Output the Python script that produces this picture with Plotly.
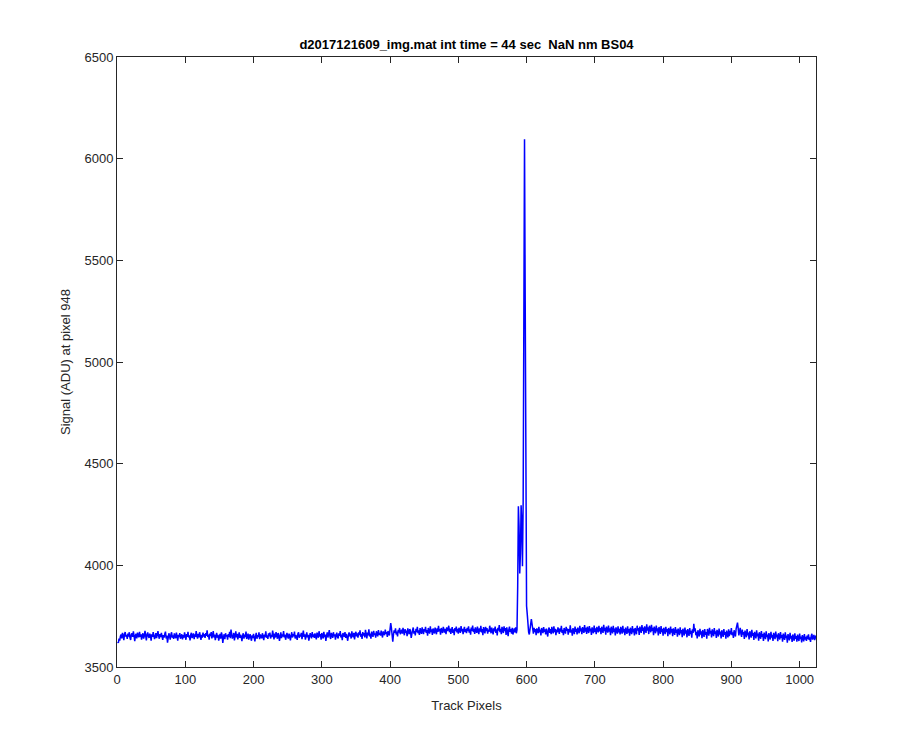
import plotly.graph_objects as go

title_text = "d2017121609_img.mat int time = 44 sec\u00a0\u00a0NaN nm BS04"
x_label = "Track Pixels"
y_label = "Signal (ADU) at pixel 948"
x_ticks = [0, 100, 200, 300, 400, 500, 600, 700, 800, 900, 1000]
y_ticks = [3500, 4000, 4500, 5000, 5500, 6000, 6500]

seg_001_128 = [
    3625, 3618, 3640, 3630, 3652, 3660, 3641, 3668, 3655, 3632, 3661, 3672, 3649, 3658, 3638, 3664,
    3650, 3671, 3645, 3633, 3660, 3666, 3648, 3675, 3652, 3627, 3655, 3663, 3641, 3669, 3654, 3646,
    3673, 3649, 3660, 3634, 3657, 3666, 3640, 3652, 3678, 3645, 3631, 3659, 3670, 3651, 3643, 3664,
    3655, 3629, 3661, 3648, 3672, 3656, 3637, 3650, 3667, 3642, 3659, 3676, 3653, 3639, 3662, 3647,
    3668, 3651, 3633, 3657, 3645, 3663, 3674, 3640, 3655, 3620, 3648, 3666, 3652, 3635, 3660, 3671,
    3644, 3656, 3638, 3665, 3650, 3642, 3669, 3654, 3630, 3658, 3647, 3667, 3639, 3653, 3661, 3636,
    3657, 3644, 3670, 3651, 3634, 3662, 3649, 3673, 3645, 3656, 3631, 3659, 3668, 3642, 3654, 3665,
    3637, 3660, 3648, 3676, 3652, 3640, 3663, 3646, 3671, 3655, 3633, 3658, 3644, 3669, 3650, 3661,
]
seg_129_256 = [
    3643, 3667, 3654, 3680, 3648, 3659, 3635, 3664, 3652, 3672, 3641, 3656, 3677, 3645, 3660, 3632,
    3653, 3668, 3644, 3658, 3630, 3650, 3663, 3639, 3670, 3655, 3618, 3647, 3661, 3637, 3666, 3651,
    3657, 3634, 3662, 3648, 3673, 3642, 3684, 3660, 3640, 3652, 3667, 3631, 3655, 3675, 3646, 3663,
    3636, 3651, 3670, 3643, 3658, 3649, 3627, 3654, 3666, 3640, 3659, 3648, 3674, 3638, 3653, 3664,
    3635, 3650, 3661, 3644, 3629, 3656, 3642, 3663, 3651, 3626, 3652, 3668, 3639, 3657, 3647, 3671,
    3637, 3660, 3650, 3641, 3666, 3653, 3632, 3659, 3648, 3675, 3644, 3656, 3638, 3665, 3651, 3669,
    3640, 3658, 3647, 3679, 3654, 3636, 3664, 3645, 3672, 3652, 3639, 3667, 3655, 3628, 3657, 3670,
    3642, 3661, 3650, 3677, 3646, 3659, 3634, 3653, 3668, 3649, 3640, 3664, 3654, 3631, 3660, 3671,
]
seg_257_384 = [
    3645, 3662, 3651, 3674, 3640, 3657, 3648, 3633, 3664, 3671, 3644, 3659, 3650, 3668, 3637, 3655,
    3679, 3648, 3661, 3635, 3653, 3670, 3646, 3658, 3630, 3650, 3666, 3655, 3641, 3672, 3649, 3660,
    3643, 3665, 3652, 3636, 3669, 3657, 3644, 3676, 3650, 3662, 3634, 3667, 3653, 3640, 3673, 3648,
    3659, 3628, 3654, 3670, 3645, 3663, 3681, 3650, 3638, 3668, 3656, 3643, 3671, 3651, 3661, 3635,
    3657, 3669, 3648, 3641, 3666, 3654, 3677, 3645, 3660, 3632, 3667, 3655, 3649, 3672, 3643, 3663,
    3652, 3629, 3658, 3670, 3650, 3664, 3640, 3675, 3655, 3647, 3668, 3636, 3661, 3673, 3651, 3665,
    3644, 3670, 3657, 3680, 3649, 3663, 3638, 3672, 3655, 3667, 3646, 3683, 3660, 3641, 3669, 3656,
    3685, 3650, 3664, 3639, 3674, 3661, 3648, 3678, 3657, 3666, 3644, 3676, 3663, 3651, 3682, 3659,
]
seg_385_512 = [
    3668, 3654, 3679, 3662, 3645, 3675, 3667, 3656, 3684, 3663, 3672, 3648, 3677, 3666, 3655, 3686,
    3716, 3692, 3664, 3624, 3659, 3680, 3668, 3690, 3660, 3674, 3651, 3683, 3669, 3692, 3661, 3676,
    3684, 3664, 3693, 3672, 3656, 3686, 3668, 3679, 3652, 3690, 3673, 3661, 3687, 3675, 3643, 3670,
    3681, 3694, 3664, 3677, 3655, 3688, 3671, 3697, 3666, 3680, 3658, 3691, 3674, 3663, 3695, 3677,
    3662, 3687, 3674, 3698, 3668, 3681, 3654, 3692, 3676, 3664, 3700, 3672, 3685, 3658, 3689, 3677,
    3665, 3694, 3679, 3661, 3690, 3673, 3702, 3676, 3686, 3659, 3692, 3678, 3667, 3697, 3680, 3669,
    3688, 3662, 3695, 3677, 3684, 3703, 3671, 3689, 3663, 3679, 3696, 3668, 3685, 3657, 3692, 3676,
    3699, 3670, 3687, 3664, 3693, 3680, 3668, 3701, 3675, 3688, 3661, 3683, 3697, 3672, 3686, 3666,
]
seg_513_576 = [
    3692, 3676, 3700, 3669, 3685, 3659, 3694, 3678, 3704, 3672, 3688, 3663, 3695, 3677, 3668, 3699,
    3681, 3662, 3690, 3674, 3702, 3670, 3687, 3656, 3696, 3679, 3665, 3698, 3676, 3691, 3664, 3684,
    3673, 3703, 3680, 3666, 3694, 3677, 3660, 3690, 3675, 3699, 3668, 3685, 3655, 3693, 3679, 3706,
    3671, 3688, 3662, 3697, 3678, 3667, 3700, 3676, 3691, 3658, 3695, 3680, 3652, 3684, 3699, 3672,
]
seg_577_608 = [
    3686, 3664, 3693, 3660, 3681, 3690, 3670, 3695, 3666, 3684, 3900, 4290, 4190, 3960, 4060, 4295,
    4210, 3995, 4310, 5020, 6095, 5300, 3855, 3800, 3760, 3702, 3672, 3660, 3688, 3714, 3735, 3712,
]
seg_609_768 = [
    3676, 3664, 3693, 3672, 3686, 3657, 3690, 3675, 3666, 3698, 3671, 3684, 3655, 3692, 3678, 3667,
    3696, 3673, 3685, 3660, 3689, 3676, 3650, 3682, 3694, 3668, 3687, 3662, 3697, 3679, 3665, 3700,
    3672, 3688, 3657, 3684, 3670, 3695, 3677, 3663, 3690, 3674, 3703, 3668, 3683, 3656, 3692, 3676,
    3664, 3697, 3678, 3689, 3659, 3686, 3671, 3705, 3669, 3684, 3654, 3691, 3675, 3662, 3699, 3673,
    3688, 3660, 3694, 3677, 3666, 3702, 3675, 3690, 3661, 3696, 3680, 3668, 3706, 3674, 3692, 3663,
    3698, 3679, 3667, 3701, 3676, 3689, 3658, 3695, 3680, 3666, 3704, 3673, 3690, 3662, 3697, 3681,
    3670, 3702, 3675, 3692, 3661, 3698, 3681, 3668, 3708, 3677, 3693, 3659, 3699, 3682, 3669, 3704,
    3674, 3690, 3657, 3698, 3680, 3665, 3702, 3673, 3689, 3655, 3695, 3678, 3664, 3700, 3671, 3688,
    3660, 3697, 3676, 3664, 3703, 3670, 3687, 3656, 3694, 3677, 3663, 3700, 3669, 3686, 3654, 3693,
    3675, 3662, 3701, 3670, 3688, 3655, 3692, 3676, 3661, 3703, 3679, 3691, 3658, 3699, 3681, 3668,
]
seg_769_896 = [
    3706, 3678, 3694, 3660, 3700, 3682, 3668, 3710, 3679, 3695, 3662, 3703, 3684, 3671, 3707, 3678,
    3693, 3657, 3699, 3682, 3666, 3704, 3675, 3690, 3655, 3697, 3678, 3663, 3701, 3672, 3688, 3654,
    3693, 3676, 3662, 3698, 3672, 3687, 3652, 3692, 3675, 3660, 3699, 3669, 3686, 3651, 3690, 3673,
    3658, 3696, 3668, 3684, 3649, 3689, 3672, 3657, 3695, 3666, 3682, 3647, 3688, 3670, 3655, 3694,
    3664, 3680, 3646, 3686, 3669, 3653, 3692, 3662, 3678, 3644, 3685, 3667, 3712, 3676, 3690, 3656,
    3673, 3640, 3681, 3664, 3650, 3688, 3660, 3675, 3642, 3682, 3663, 3648, 3687, 3658, 3672, 3639,
    3687, 3669, 3654, 3693, 3664, 3678, 3645, 3685, 3667, 3652, 3691, 3662, 3676, 3643, 3683, 3665,
    3650, 3689, 3660, 3674, 3641, 3681, 3663, 3648, 3687, 3658, 3672, 3639, 3679, 3661, 3646, 3685,
]
seg_897_1024 = [
    3652, 3678, 3660, 3691, 3657, 3670, 3643, 3681, 3664, 3650, 3688, 3700, 3718, 3690, 3655, 3675,
    3692, 3663, 3648, 3684, 3659, 3672, 3638, 3679, 3661, 3646, 3686, 3656, 3669, 3635, 3676, 3658,
    3644, 3683, 3654, 3667, 3633, 3673, 3656, 3641, 3680, 3651, 3664, 3630, 3671, 3653, 3639, 3677,
    3649, 3662, 3628, 3669, 3651, 3637, 3675, 3647, 3660, 3626, 3667, 3649, 3635, 3673, 3645, 3658,
    3628, 3668, 3650, 3637, 3674, 3646, 3659, 3627, 3666, 3648, 3635, 3672, 3644, 3657, 3625, 3664,
    3647, 3633, 3670, 3642, 3655, 3620, 3662, 3645, 3631, 3668, 3640, 3653, 3623, 3660, 3643, 3629,
    3666, 3639, 3652, 3625, 3659, 3641, 3628, 3664, 3637, 3650, 3621, 3657, 3639, 3626, 3662, 3635,
    3648, 3628, 3655, 3637, 3661, 3633, 3646, 3624, 3653, 3663, 3635, 3644, 3658, 3632, 3651, 3655,
]

signal = (seg_001_128 + seg_129_256 + seg_257_384 + seg_385_512 + seg_513_576
          + seg_577_608 + seg_609_768 + seg_769_896 + seg_897_1024)
pixels = list(range(1, len(signal) + 1))

fig = go.Figure()
fig.add_trace(go.Scatter(x=pixels, y=signal, mode="lines",
                         line=dict(color="#0000ff", width=1.5), showlegend=False))

axis_common = dict(
    showline=True, linecolor="#262626", linewidth=1, mirror="ticks",
    ticks="inside", ticklen=6, tickwidth=1, tickcolor="#262626",
    showgrid=False, zeroline=False,
    tickfont=dict(family="Liberation Sans, Arial, sans-serif", size=13, color="#262626"),
)

# the page body adds an 8 px offset; margins compensate for it
fig.update_layout(
    width=900, height=750,
    paper_bgcolor="white", plot_bgcolor="white",
    margin=dict(l=109, r=92, t=49, b=91),
    font=dict(family="Liberation Sans, Arial, sans-serif", size=13, color="#262626"),
    title=dict(text="<b>" + title_text + "</b>", x=(109 + 699 / 2) / 900, xanchor="center",
               yref="container", y=1 - 36 / 750, yanchor="middle",
               font=dict(size=13, color="#000000")),
    xaxis=dict(range=[0, 1024], tickvals=x_ticks,
               title=dict(text=x_label, standoff=15, font=dict(size=13)), **axis_common),
    yaxis=dict(range=[3500, 6500], tickvals=y_ticks,
               title=dict(text=y_label, standoff=10, font=dict(size=13)), **axis_common),
)

fig.write_html("out.html")
